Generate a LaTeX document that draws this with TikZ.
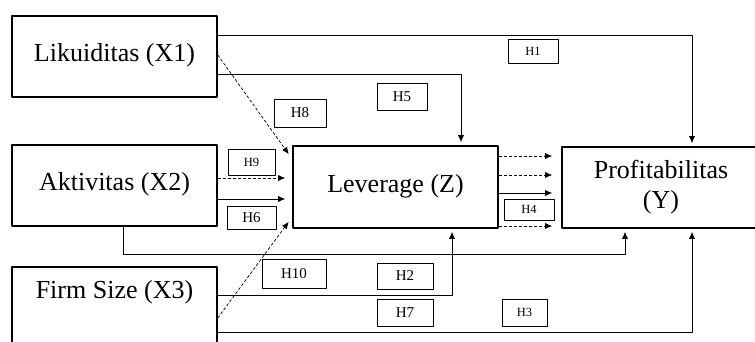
\documentclass[tikz,border=0pt]{standalone}
\usepackage{fontspec}
\setmainfont{Liberation Serif}
\usetikzlibrary{arrows.meta,calc}
\begin{document}
\begin{tikzpicture}[x=1pt,y=-1pt,>={Latex[length=7pt,width=6pt]},line join=round]
	%%%% kiểu dáng
	\tikzset{bienbox/.style={draw,line width=1.6pt,minimum width=205pt,minimum height=81pt,inner sep=0pt,font=\fontsize{26}{30}\selectfont},
		hbox/.style={draw,line width=0.7pt,inner sep=0pt,font=\fontsize{15}{17}\selectfont},
		hnho/.style={hbox,font=\fontsize{12.5}{14}\selectfont},
		duong/.style={->,line width=0.7pt},
		duongnet/.style={duong,dash pattern=on 3pt off 2pt}}
	\useasboundingbox (0,0) rectangle (755,342);
	%%%% các biến
	\node[bienbox,text depth=9pt] (X1) at (114.5,56.5) {Likuiditas (X1)};
	\node[bienbox,text depth=9pt] (X2) at (114.5,185.5) {Aktivitas (X2)};
	\node[bienbox,minimum height=83pt] (X3) at (114.5,308.5) {};
	\node[font=\fontsize{26}{30}\selectfont] (X3chu) at (114.5,292) {Firm Size (X3)};
	\node[bienbox,minimum height=82pt,text depth=8pt] (Z) at (395.5,187) {Leverage (Z)};
	\node[bienbox,minimum width=198pt,align=center] (Y) at (661,187.5) {Profitabilitas\\(Y)};
	%%%% nhãn giả thuyết
	\node[hnho,minimum width=50pt,minimum height=24pt] (H1) at (533,51) {H1};
	\node[hbox,minimum width=50pt,minimum height=27pt] (H5) at (402,96.5) {H5};
	\node[hbox,minimum width=52pt,minimum height=28pt] (H8) at (300,113) {H8};
	\node[hnho,minimum width=47pt,minimum height=26pt] (H9) at (251.5,162) {H9};
	\node[hbox,minimum width=49pt,minimum height=23pt] (H6) at (251.5,217.5) {H6};
	\node[hnho,minimum width=50pt,minimum height=21pt] (H4) at (529,209.5) {H4};
	\node[hbox,minimum width=64pt,minimum height=29pt] (H10) at (294,273.5) {H10};
	\node[hbox,minimum width=56pt,minimum height=26pt] (H2) at (405,276) {H2};
	\node[hbox,minimum width=56pt,minimum height=27pt] (H7) at (405,312.5) {H7};
	\node[hnho,minimum width=45pt,minimum height=27pt] (H3) at (524.5,312.5) {H3};
	%%%% điểm đầu, điểm cuối
	\coordinate (h1s) at ([yshift=21.5pt]X1.east);
	\coordinate (h1e) at ([xshift=31pt]Y.north);
	\coordinate (h5s) at ([yshift=-17.5pt]X1.east);
	\coordinate (h5e) at ([xshift=65.5pt]Z.north);
	\coordinate (h8s) at ([yshift=1.5pt]X1.east);
	\coordinate (h8e) at ([yshift=28pt]Z.west);
	\coordinate (h9s) at ([yshift=7.5pt]X2.east);
	\coordinate (h6s) at ([yshift=-13.5pt]X2.east);
	\coordinate (h10s) at ([xshift=8.5pt]X2.south);
	\coordinate (h10e) at ([xshift=-36pt]Y.south);
	\coordinate (h2s) at ([yshift=13.5pt]X3.east);
	\coordinate (h2e) at ([xshift=56.5pt]Z.south);
	\coordinate (h3s) at ([yshift=-23.5pt]X3.east);
	\coordinate (h3e) at ([xshift=31pt]Y.south);
	\coordinate (h7s) at ([yshift=-9.5pt]X3.east);
	\coordinate (h7e) at ([yshift=-30pt]Z.west);
	%%%% các đường
	\draw[duong,shorten >=3pt] (h1s) -| (h1e);
	\draw[duong,shorten >=3pt] (h5s) -| (h5e);
	\draw[duongnet,shorten >=6pt] (h8s) -- (h8e);
	\draw[duongnet,shorten >=7pt] (h9s) -- (h9s -| Z.west);
	\draw[duong,shorten >=7pt] (h6s) -- (h6s -| Z.west);
	\draw[duongnet,shorten >=6pt] (h7s) -- (h7e);
	\draw[duong,shorten >=3pt] (h10s) -- ++(0,28) -| (h10e);
	\draw[duong,shorten >=3pt] (h2s) -| (h2e);
	\draw[duong,shorten >=3pt] (h3s) -| (h3e);
	%Từ Z sang Y
	\foreach \dich/\kieu in {31/duongnet,12/duongnet,-6/duong,-39/duongnet}{
		\draw[\kieu,shorten >=9pt] ([yshift=\dich pt]Z.east) -- ([yshift=\dich pt]Z.east -| Y.west);
	}
\end{tikzpicture}
\end{document}
